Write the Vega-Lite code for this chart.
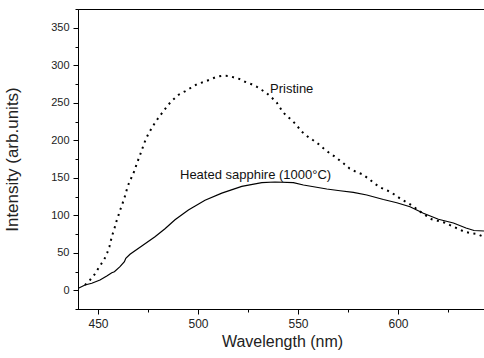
{
  "$schema": "https://vega.github.io/schema/vega-lite/v6.json",
  "autosize": "none",
  "padding": {"left": 78, "top": 9, "right": 0, "bottom": 49},
  "width": 408,
  "height": 300,
  "config": {
    "view": {"stroke": "#000", "strokeWidth": 1},
    "font": "Liberation Sans"
  },
  "datasets": {
    "heated": [
      {"wl": 440.2, "v": 2.6}, {"wl": 443.5, "v": 7}, {"wl": 446.9, "v": 9.3}, {"wl": 451, "v": 13.7},
      {"wl": 454.4, "v": 19}, {"wl": 456.9, "v": 23.4}, {"wl": 458.2, "v": 24.7}, {"wl": 461, "v": 31.4},
      {"wl": 463.2, "v": 38}, {"wl": 463.9, "v": 42.6}, {"wl": 466, "v": 48}, {"wl": 471.9, "v": 59},
      {"wl": 478.5, "v": 71.4}, {"wl": 483.5, "v": 82}, {"wl": 488.5, "v": 94}, {"wl": 495.2, "v": 107},
      {"wl": 503.5, "v": 120}, {"wl": 511.9, "v": 129.5}, {"wl": 521.9, "v": 138.5}, {"wl": 531.9, "v": 143.5},
      {"wl": 538.5, "v": 144.3}, {"wl": 547.7, "v": 143.4}, {"wl": 552.7, "v": 140.3}, {"wl": 564.4, "v": 135},
      {"wl": 571, "v": 132.7}, {"wl": 577.7, "v": 130.6}, {"wl": 584.4, "v": 127}, {"wl": 592.7, "v": 121},
      {"wl": 599.4, "v": 116.7}, {"wl": 606, "v": 111.4}, {"wl": 612.7, "v": 102.6}, {"wl": 620.2, "v": 94.6},
      {"wl": 627.7, "v": 89.7}, {"wl": 634, "v": 83}, {"wl": 638, "v": 79.7}, {"wl": 643, "v": 79}
    ],
    "pristine": [
      {"wl": 443.5, "v": 7}, {"wl": 446, "v": 13.7}, {"wl": 448.5, "v": 21.7}, {"wl": 450.2, "v": 29.3},
      {"wl": 451.7, "v": 35.4}, {"wl": 453.4, "v": 42.6}, {"wl": 454.7, "v": 50.6}, {"wl": 455.7, "v": 58},
      {"wl": 456.4, "v": 66}, {"wl": 457.2, "v": 74}, {"wl": 458.2, "v": 82}, {"wl": 459, "v": 90},
      {"wl": 460, "v": 98}, {"wl": 460.9, "v": 105.7}, {"wl": 462, "v": 113.7}, {"wl": 463, "v": 121.3},
      {"wl": 463.9, "v": 129.3}, {"wl": 464.7, "v": 137.3}, {"wl": 465.8, "v": 145}, {"wl": 467.2, "v": 153},
      {"wl": 468.4, "v": 160.3}, {"wl": 469.3, "v": 168.3}, {"wl": 470.4, "v": 176}, {"wl": 471.5, "v": 183.7},
      {"wl": 472.5, "v": 191.4}, {"wl": 473.7, "v": 200}, {"wl": 475, "v": 207.5}, {"wl": 476.7, "v": 215.4},
      {"wl": 478.5, "v": 223.4}, {"wl": 480.5, "v": 231}, {"wl": 482.8, "v": 239}, {"wl": 485, "v": 247},
      {"wl": 487.5, "v": 254}, {"wl": 490.3, "v": 260.7}, {"wl": 493.5, "v": 265.3}, {"wl": 496.5, "v": 270},
      {"wl": 499.7, "v": 275}, {"wl": 503.2, "v": 278}, {"wl": 506.3, "v": 281.3}, {"wl": 509.5, "v": 284.7},
      {"wl": 512.5, "v": 286}, {"wl": 515.5, "v": 285.7}, {"wl": 517.7, "v": 284}, {"wl": 520.7, "v": 281.7},
      {"wl": 523.5, "v": 278}, {"wl": 526.5, "v": 275}, {"wl": 529.3, "v": 271.4}, {"wl": 531.9, "v": 267},
      {"wl": 534.4, "v": 262.6}, {"wl": 537.2, "v": 256}, {"wl": 539.4, "v": 250}, {"wl": 541, "v": 243.4},
      {"wl": 542.7, "v": 236.7}, {"wl": 545.2, "v": 230.6}, {"wl": 547.7, "v": 224.7}, {"wl": 549.9, "v": 218},
      {"wl": 551.9, "v": 211.4}, {"wl": 554.4, "v": 205.7}, {"wl": 557.4, "v": 200.3}, {"wl": 560.2, "v": 195},
      {"wl": 562.7, "v": 189.3}, {"wl": 565.2, "v": 184}, {"wl": 568.5, "v": 178}, {"wl": 572.7, "v": 169.3},
      {"wl": 575.7, "v": 162.6}, {"wl": 578.9, "v": 158}, {"wl": 582.2, "v": 154.6}, {"wl": 585.5, "v": 148.3},
      {"wl": 588.5, "v": 141.7}, {"wl": 591.5, "v": 136.7}, {"wl": 594.9, "v": 132.7}, {"wl": 598, "v": 128},
      {"wl": 601.4, "v": 121.7}, {"wl": 604.4, "v": 117.3}, {"wl": 607.4, "v": 112.3}, {"wl": 610.5, "v": 106},
      {"wl": 613.5, "v": 100.3}, {"wl": 616.9, "v": 94.6}, {"wl": 620.2, "v": 92.3}, {"wl": 623.5, "v": 90},
      {"wl": 626.9, "v": 85.7}, {"wl": 630.2, "v": 81.7}, {"wl": 633.2, "v": 78}, {"wl": 636.5, "v": 76},
      {"wl": 639.4, "v": 75}, {"wl": 642.7, "v": 71.4}
    ],
    "labels": [
      {"wl": 536, "v": 269, "text": "Pristine"},
      {"wl": 491, "v": 154, "text": "Heated sapphire (1000°C)"}
    ]
  },
  "resolve": {"axis": {"x": "independent", "y": "independent"}},
  "layer": [
    {
      "data": {"name": "heated"},
      "mark": {"type": "line", "color": "#000", "strokeWidth": 1.2, "clip": true},
      "encoding": {
        "x": {
          "field": "wl", "type": "quantitative",
          "scale": {"domain": [440, 644], "nice": false, "zero": false},
          "axis": {
            "orient": "bottom", "values": [450, 500, 550, 600], "title": "Wavelength (nm)",
            "grid": false, "domainColor": "#000", "tickColor": "#000", "tickSize": 5,
            "labelFontSize": 12, "labelColor": "#222", "labelPadding": 4,
            "titleFontSize": 16, "titleFontWeight": "normal", "titleColor": "#222", "titlePadding": 4
          }
        },
        "y": {
          "field": "v", "type": "quantitative",
          "scale": {"domain": [-25, 375], "nice": false, "zero": false},
          "axis": {
            "orient": "left", "values": [0, 50, 100, 150, 200, 250, 300, 350], "title": "Intensity (arb.units)",
            "grid": false, "domainColor": "#000", "tickColor": "#000", "tickSize": 5,
            "labelFontSize": 11, "labelColor": "#222", "labelPadding": 4,
            "titleFontSize": 17, "titleFontWeight": "normal", "titleColor": "#222", "titlePadding": 29
          }
        }
      }
    },
    {
      "data": {"name": "pristine"},
      "mark": {"type": "line", "color": "#000", "strokeWidth": 2, "strokeDash": [2, 4.5], "clip": true},
      "encoding": {
        "x": {
          "field": "wl", "type": "quantitative",
          "axis": {
            "orient": "bottom", "values": [475, 525, 575, 625], "title": null, "labels": false,
            "domain": false, "grid": false, "tickColor": "#000", "tickSize": 3
          }
        },
        "y": {
          "field": "v", "type": "quantitative",
          "axis": {
            "orient": "left", "values": [-25, 25, 75, 125, 175, 225, 275, 325, 375], "title": null, "labels": false,
            "domain": false, "grid": false, "tickColor": "#000", "tickSize": 3
          }
        }
      }
    },
    {
      "data": {"name": "labels"},
      "mark": {"type": "text", "align": "left", "baseline": "middle", "fontSize": 13, "color": "#111"},
      "encoding": {
        "x": {"field": "wl", "type": "quantitative", "axis": null},
        "y": {"field": "v", "type": "quantitative", "axis": null},
        "text": {"field": "text"}
      }
    }
  ]
}
